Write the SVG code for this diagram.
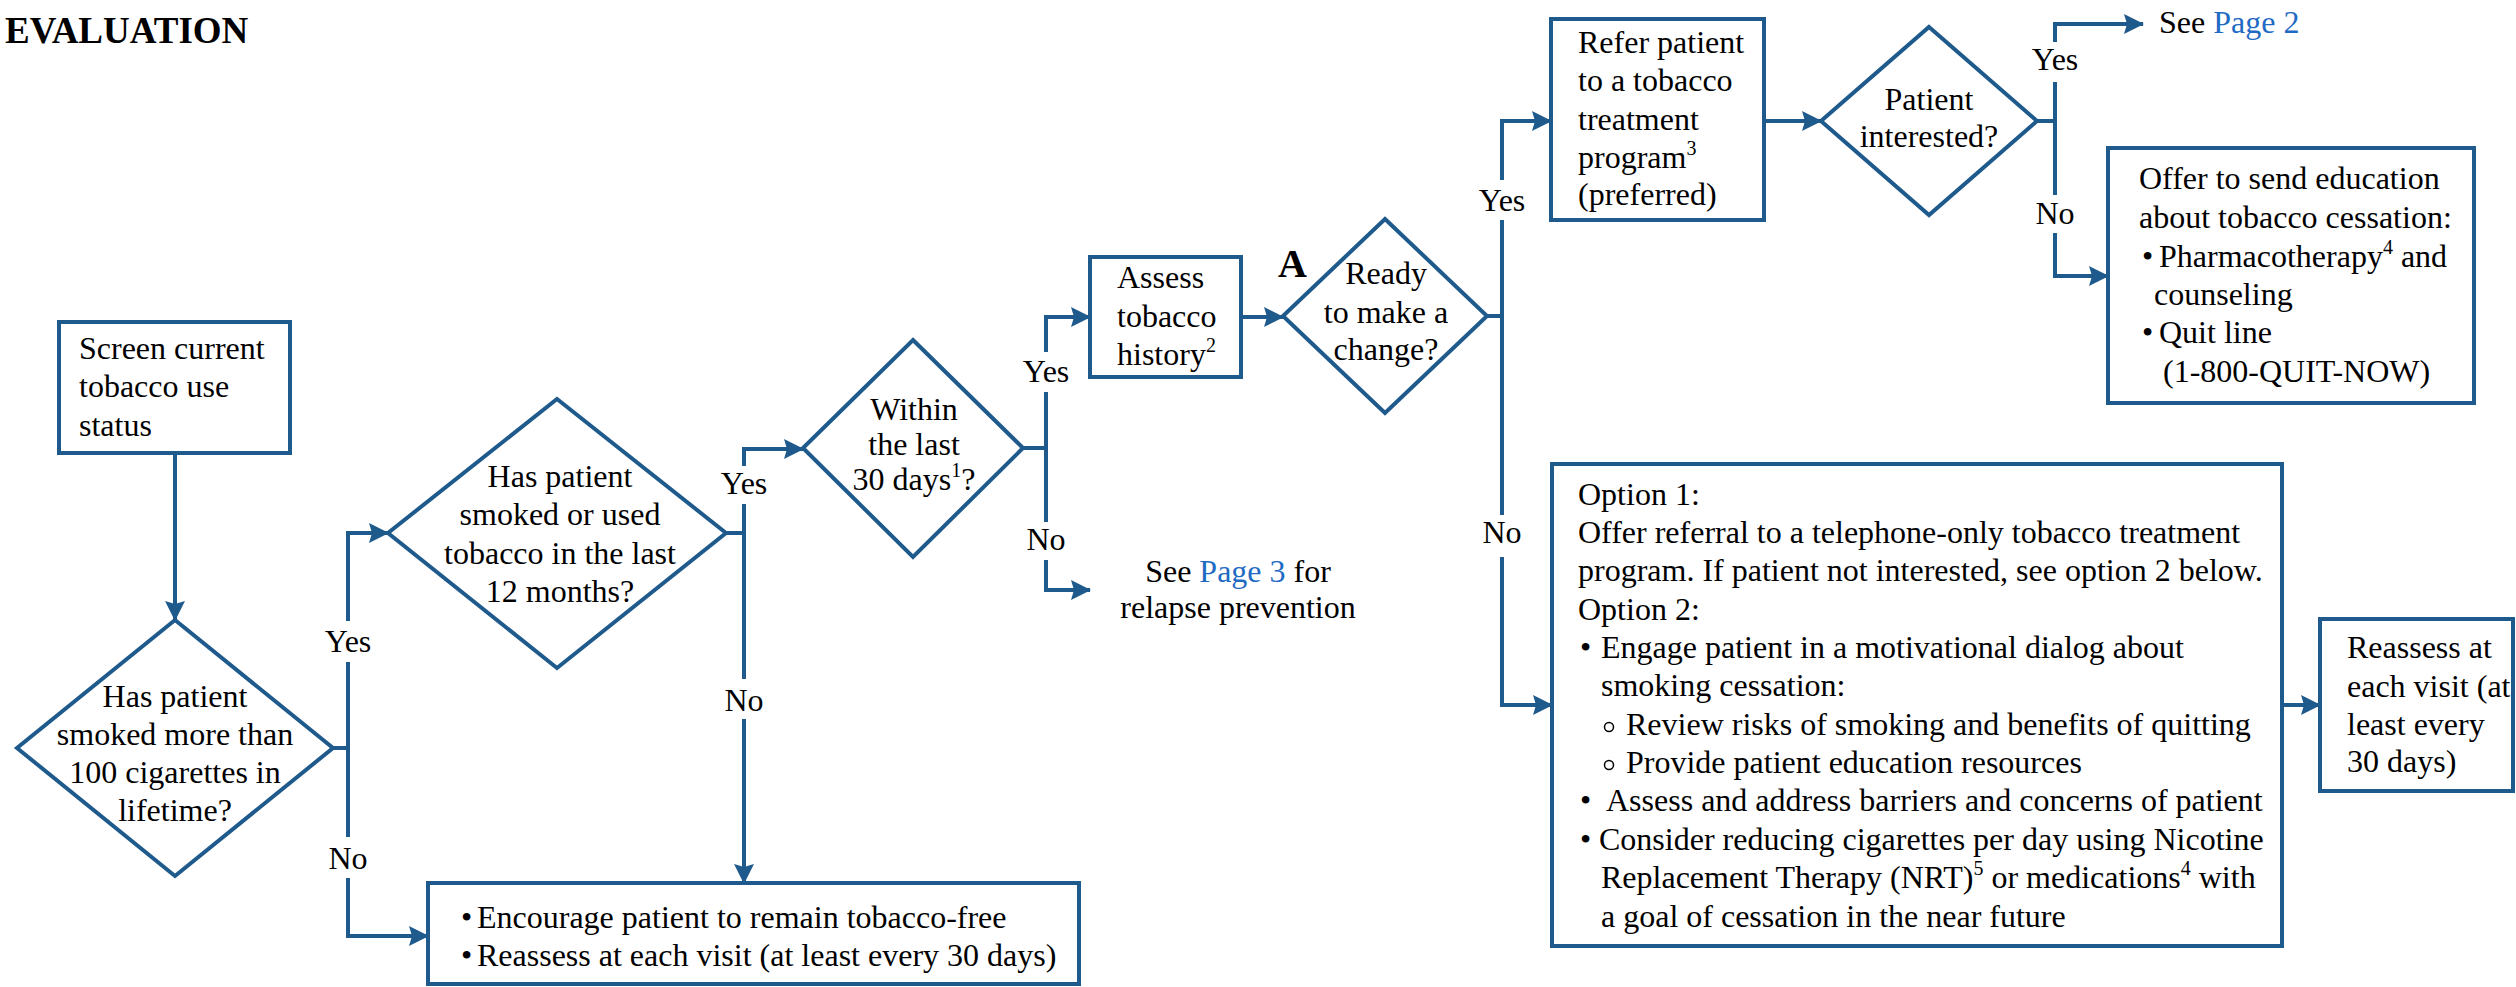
<svg xmlns="http://www.w3.org/2000/svg" width="2516" height="987" viewBox="0 0 2516 987">
  <defs>
    <marker id="arrow" markerUnits="userSpaceOnUse" markerWidth="20" markerHeight="20" refX="19" refY="10" orient="auto">
      <path d="M0,0 L20,10 L0,20 L3,10 z" fill="#1f5a8c"/>
    </marker>
    <style>
      text { font-family: "Liberation Serif", "Times New Roman", serif; font-size: 32px; fill: #000; }
      .title { font-weight: bold; font-size: 37px; }
      .mark { font-weight: bold; font-size: 40px; }
      .box { fill: #fff; stroke: #1f5a8c; stroke-width: 4; }
      .dia { fill: #fff; stroke: #1f5a8c; stroke-width: 4; stroke-linejoin: miter; }
      .c { text-anchor: middle; }
      .link { fill: #1f6bc4; }
      .edge { fill: none; stroke: #1f5a8c; stroke-width: 4; marker-end: url(#arrow); }
      .line { fill: none; stroke: #1f5a8c; stroke-width: 4; }
      .gap { fill: #fff; }
      .sup { font-size: 20px; }
    </style>
  </defs>
  <rect width="2516" height="987" fill="#fff"/>

  <text class="title" x="5" y="43">EVALUATION</text>

  <!-- connectors -->
  <g id="connectors">
    <path class="edge" d="M175,453 V620"/>
    <path class="line" d="M333,748 H348"/>
    <path class="edge" d="M348,748 V533 H388"/>
    <path class="edge" d="M348,748 V936 H428"/>
    <path class="line" d="M726,533 H744"/>
    <path class="edge" d="M744,533 V449 H803"/>
    <path class="edge" d="M744,533 V883"/>
    <path class="line" d="M1023,448 H1046"/>
    <path class="edge" d="M1046,448 V317 H1090"/>
    <path class="edge" d="M1046,448 V590 H1090"/>
    <path class="edge" d="M1241,317 H1283"/>
    <path class="line" d="M1487,316 H1502"/>
    <path class="edge" d="M1502,316 V121 H1551"/>
    <path class="edge" d="M1502,316 V705 H1552"/>
    <path class="edge" d="M1764,121 H1821"/>
    <path class="line" d="M2037,121 H2055"/>
    <path class="edge" d="M2055,121 V24 H2143"/>
    <path class="edge" d="M2055,121 V276 H2108"/>
    <path class="edge" d="M2282,705 H2320"/>

    <!-- branch labels -->
    <rect class="gap" x="322" y="621" width="52" height="41"/>
    <text class="c" x="348" y="652">Yes</text>
    <rect class="gap" x="326" y="837" width="44" height="41"/>
    <text class="c" x="348" y="869">No</text>
    <rect class="gap" x="718" y="466" width="52" height="38"/>
    <text class="c" x="744" y="494">Yes</text>
    <rect class="gap" x="722" y="679" width="44" height="40"/>
    <text class="c" x="744" y="711">No</text>
    <rect class="gap" x="1020" y="352" width="52" height="40"/>
    <text class="c" x="1046" y="382">Yes</text>
    <rect class="gap" x="1024" y="522" width="44" height="38"/>
    <text class="c" x="1046" y="550">No</text>
    <rect class="gap" x="1476" y="180" width="52" height="40"/>
    <text class="c" x="1502" y="211">Yes</text>
    <rect class="gap" x="1480" y="515" width="44" height="42"/>
    <text class="c" x="1502" y="543">No</text>
    <rect class="gap" x="2029" y="42" width="52" height="40"/>
    <text class="c" x="2055" y="70">Yes</text>
    <rect class="gap" x="2033" y="195" width="44" height="38"/>
    <text class="c" x="2055" y="224">No</text>
  </g>

  <g id="screen">
    <rect class="box" x="59" y="322" width="231" height="131"/>
    <text x="79" y="359">Screen current</text>
    <text x="79" y="397">tobacco use</text>
    <text x="79" y="436">status</text>
  </g>

  <g id="q-lifetime">
    <polygon class="dia" points="175,620 333,748 175,876 17,748"/>
    <text class="c" x="175" y="707">Has patient</text>
    <text class="c" x="175" y="745">smoked more than</text>
    <text class="c" x="175" y="783">100 cigarettes in</text>
    <text class="c" x="175" y="821">lifetime?</text>
  </g>

  <g id="q-12-months">
    <polygon class="dia" points="557,399 726,533 557,668 388,533"/>
    <text class="c" x="560" y="487">Has patient</text>
    <text class="c" x="560" y="525">smoked or used</text>
    <text class="c" x="560" y="564">tobacco in the last</text>
    <text class="c" x="560" y="602">12 months?</text>
  </g>

  <g id="q-30-days">
    <polygon class="dia" points="913,340 1023,448 913,557 803,448"/>
    <text class="c" x="914" y="420">Within</text>
    <text class="c" x="914" y="455">the last</text>
    <text class="c" x="914" y="490">30 days<tspan class="sup" dy="-13">1</tspan><tspan dy="13">?</tspan></text>
  </g>

  <g id="tobacco-free">
    <rect class="box" x="428" y="883" width="651" height="101"/>
    <text x="461" y="928">•</text>
    <text x="477" y="928">Encourage patient to remain tobacco-free</text>
    <text x="461" y="966">•</text>
    <text x="477" y="966">Reassess at each visit (at least every 30 days)</text>
  </g>

  <g id="relapse">
    <text class="c" x="1238" y="582">See <tspan class="link">Page 3</tspan> for</text>
    <text class="c" x="1238" y="618">relapse prevention</text>
  </g>

  <g id="assess">
    <rect class="box" x="1090" y="257" width="151" height="120"/>
    <text x="1117" y="288">Assess</text>
    <text x="1117" y="327">tobacco</text>
    <text x="1117" y="365">history<tspan class="sup" dy="-13">2</tspan></text>
  </g>

  <g id="q-ready">
    <text class="mark" x="1278" y="277">A</text>
    <polygon class="dia" points="1385,219 1487,316 1385,413 1283,316"/>
    <text class="c" x="1386" y="284">Ready</text>
    <text class="c" x="1386" y="323">to make a</text>
    <text class="c" x="1386" y="360">change?</text>
  </g>

  <g id="refer">
    <rect class="box" x="1551" y="19" width="213" height="201"/>
    <text x="1578" y="53">Refer patient</text>
    <text x="1578" y="91">to a tobacco</text>
    <text x="1578" y="130">treatment</text>
    <text x="1578" y="168">program<tspan class="sup" dy="-13">3</tspan></text>
    <text x="1578" y="205">(preferred)</text>
  </g>

  <g id="q-interested">
    <polygon class="dia" points="1929,27 2037,121 1929,215 1821,121"/>
    <text class="c" x="1929" y="110">Patient</text>
    <text class="c" x="1929" y="147">interested?</text>
  </g>

  <g id="page-2">
    <text x="2159" y="33">See <tspan class="link">Page 2</tspan></text>
  </g>

  <g id="education">
    <rect class="box" x="2108" y="148" width="366" height="255"/>
    <text x="2139" y="189">Offer to send education</text>
    <text x="2139" y="228">about tobacco cessation:</text>
    <text x="2142" y="267">•</text>
    <text x="2159" y="267">Pharmacotherapy<tspan class="sup" dy="-13">4</tspan><tspan dy="13"> and</tspan></text>
    <text x="2154" y="305">counseling</text>
    <text x="2142" y="343">•</text>
    <text x="2159" y="343">Quit line</text>
    <text x="2163" y="382">(1-800-QUIT-NOW)</text>
  </g>

  <g id="options">
    <rect class="box" x="1552" y="464" width="730" height="482"/>
    <text x="1578" y="505">Option 1:</text>
    <text x="1578" y="543">Offer referral to a telephone-only tobacco treatment</text>
    <text x="1578" y="581">program. If patient not interested, see option 2 below.</text>
    <text x="1578" y="620">Option 2:</text>
    <text x="1580" y="658">•</text>
    <text x="1601" y="658">Engage patient in a motivational dialog about</text>
    <text x="1601" y="696">smoking cessation:</text>
    <circle cx="1609" cy="727" r="4.5" fill="none" stroke="#000" stroke-width="1.5"/>
    <text x="1626" y="735">Review risks of smoking and benefits of quitting</text>
    <circle cx="1609" cy="765" r="4.5" fill="none" stroke="#000" stroke-width="1.5"/>
    <text x="1626" y="773">Provide patient education resources</text>
    <text x="1580" y="811">•</text>
    <text x="1606" y="811">Assess and address barriers and concerns of patient</text>
    <text x="1580" y="850">•</text>
    <text x="1599" y="850">Consider reducing cigarettes per day using Nicotine</text>
    <text x="1601" y="888">Replacement Therapy (NRT)<tspan class="sup" dy="-13">5</tspan><tspan dy="13"> or medications</tspan><tspan class="sup" dy="-13">4</tspan><tspan dy="13"> with</tspan></text>
    <text x="1601" y="927">a goal of cessation in the near future</text>
  </g>

  <g id="reassess">
    <rect class="box" x="2320" y="619" width="193" height="172"/>
    <text x="2347" y="658">Reassess at</text>
    <text x="2347" y="697">each visit (at</text>
    <text x="2347" y="735">least every</text>
    <text x="2347" y="772">30 days)</text>
  </g>
</svg>
